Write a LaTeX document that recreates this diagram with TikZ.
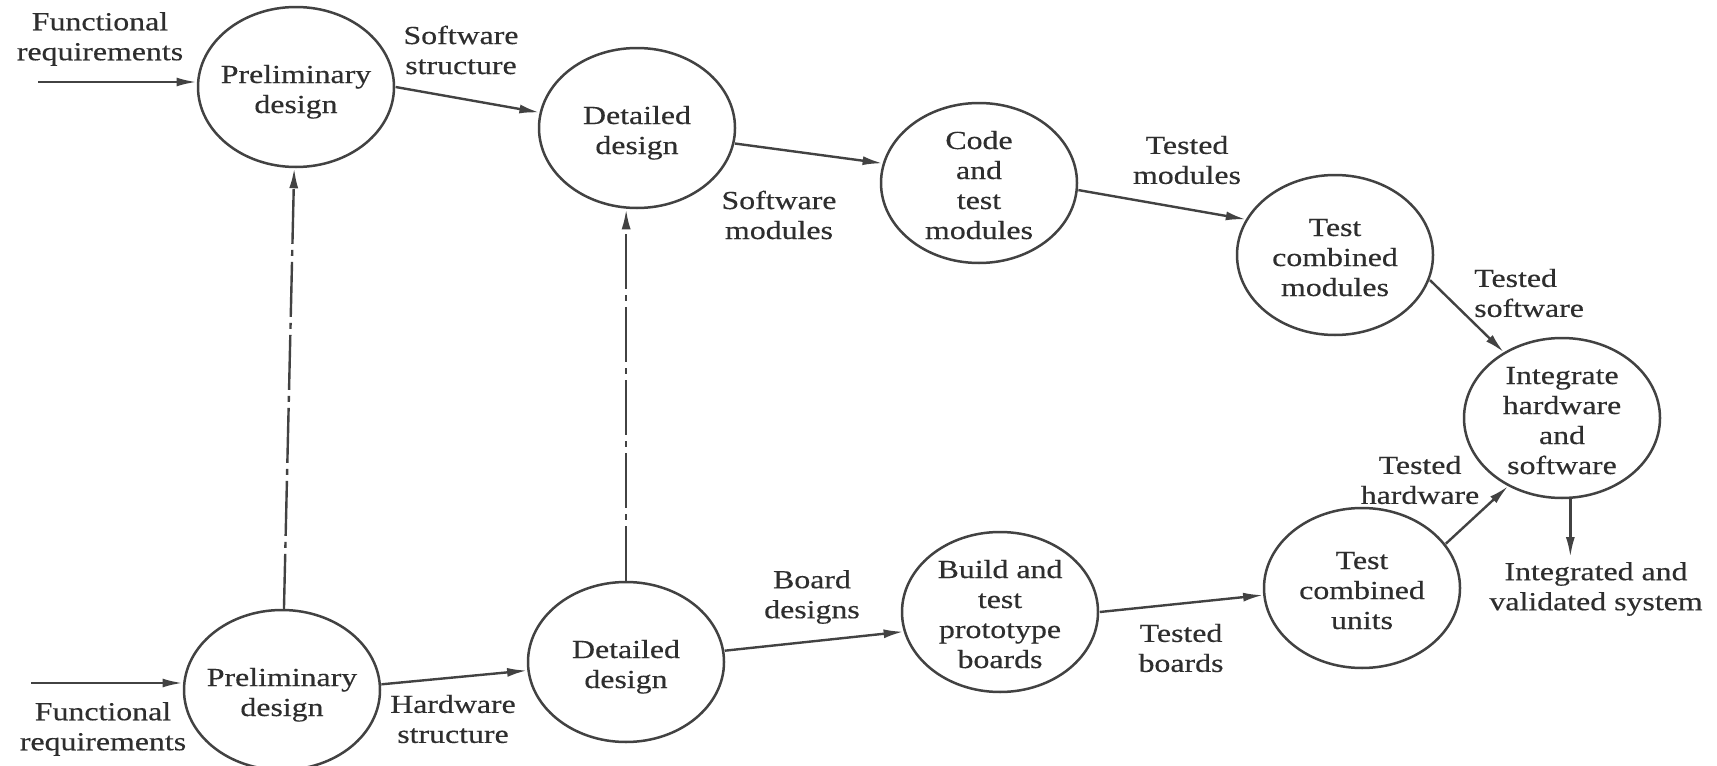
\documentclass[tikz,border=0pt]{standalone}
\usepackage{fontspec}
\setmainfont{Liberation Serif}
\newfontfamily\diagfont{Liberation Serif}[FakeBold=0.35]
\usetikzlibrary{arrows.meta}
\definecolor{ink}{HTML}{2E2E2E}
\definecolor{wire}{HTML}{424242}
% centred lines of a process bubble, set a little below the bubble's centre
\newcommand{\bubbletext}[1]{\raisebox{-5pt}[\height][\depth]{\begin{tabular}{@{}c@{}}#1\end{tabular}}}
\begin{document}
\begin{tikzpicture}[x=0.81633pt, y=-1pt, xscale=1.225,
  every node/.style={transform shape, text=ink, font=\diagfont\fontsize{26pt}{30pt}\selectfont},
  proc/.style={circle, draw=wire, line width=2.5pt, minimum size=160pt, inner sep=0pt},
  lbl/.style={align=center, inner sep=0pt},
  flow/.style={draw=wire, line width=2.4pt, -{Latex[length=20pt,width=9pt]}},
  link/.style={flow, dash pattern=on 55pt off 6pt on 6pt off 6pt}]

\fill[white] (0,0) rectangle (1717,766);
\useasboundingbox (0,0) rectangle (1717,766);

% software path (top row)
\node[proc] (P1) at (296,87)  {\bubbletext{Preliminary\\design}};
\node[proc] (D1) at (637,128) {\bubbletext{Detailed\\design}};
\node[proc] (C)  at (979,183) {\bubbletext{Code\\and\\test\\modules}};
\node[proc] (T1) at (1335,255) {\bubbletext{Test\\combined\\modules}};
% integration
\node[proc] (I)  at (1562,418) {\bubbletext{Integrate\\hardware\\and\\software}};
% hardware path (bottom row)
\node[proc] (T2) at (1362,588) {\bubbletext{Test\\combined\\units}};
\node[proc] (B)  at (1000,612) {\bubbletext{Build and\\test\\prototype\\boards}};
\node[proc] (D2) at (626,662) {\bubbletext{Detailed\\design}};
\node[proc] (P2) at (282,690) {\bubbletext{Preliminary\\design}};

% flow labels
\node[lbl] (fr1) at (100,39)  {Functional\\requirements};
\node[lbl] (ss)  at (461,50)  {Software\\structure};
\node[lbl] (sm)  at (779,215) {Software\\modules};
\node[lbl] (tm)  at (1187,160) {Tested\\modules};
\node[lbl, align=left, anchor=west] (ts) at (1474,293) {Tested\\software};
\node[lbl] (th)  at (1420,480) {Tested\\hardware};
\node[lbl] (iv)  at (1596,589) {Integrated and\\validated system};
\node[lbl] (tb)  at (1181,648) {Tested\\boards};
\node[lbl] (bd)  at (812,597) {Board\\designs};
\node[lbl] (hs)  at (453,719) {Hardware\\structure};
\node[lbl] (fr2) at (103,729) {Functional\\requirements};

% free ends of the input and output flows
\coordinate (in1) at (38,82);
\coordinate (in2) at (31,683);
\coordinate (out) at (1570,557);

% software flows
\draw[flow] (in1) -- (in1 -| P1.west);
\draw[flow] (P1.0) -- (D1.169);
\draw[flow] (D1.-11) -- (C.166);
\draw[flow] (C.-5) -- (T1.154);
\draw[flow] (T1.-18) -- (I.126);

% hardware flows
\draw[flow] (in2) -- (in2 -| P2.west);
\draw[flow] (P2.4) -- (D2.186);
\draw[flow] (D2.8) -- (B.194);
\draw[flow] (B.0) -- (T2.185);
\draw[flow] (T2.33) -- (I.237);

% integrated output
\draw[flow] (out |- I.south) -- (out);

% hardware-to-software design links
\draw[link] (P2) -- (P1);
\draw[link] (D2.north) -- (D2.north |- D1.south);
\end{tikzpicture}
\end{document}
